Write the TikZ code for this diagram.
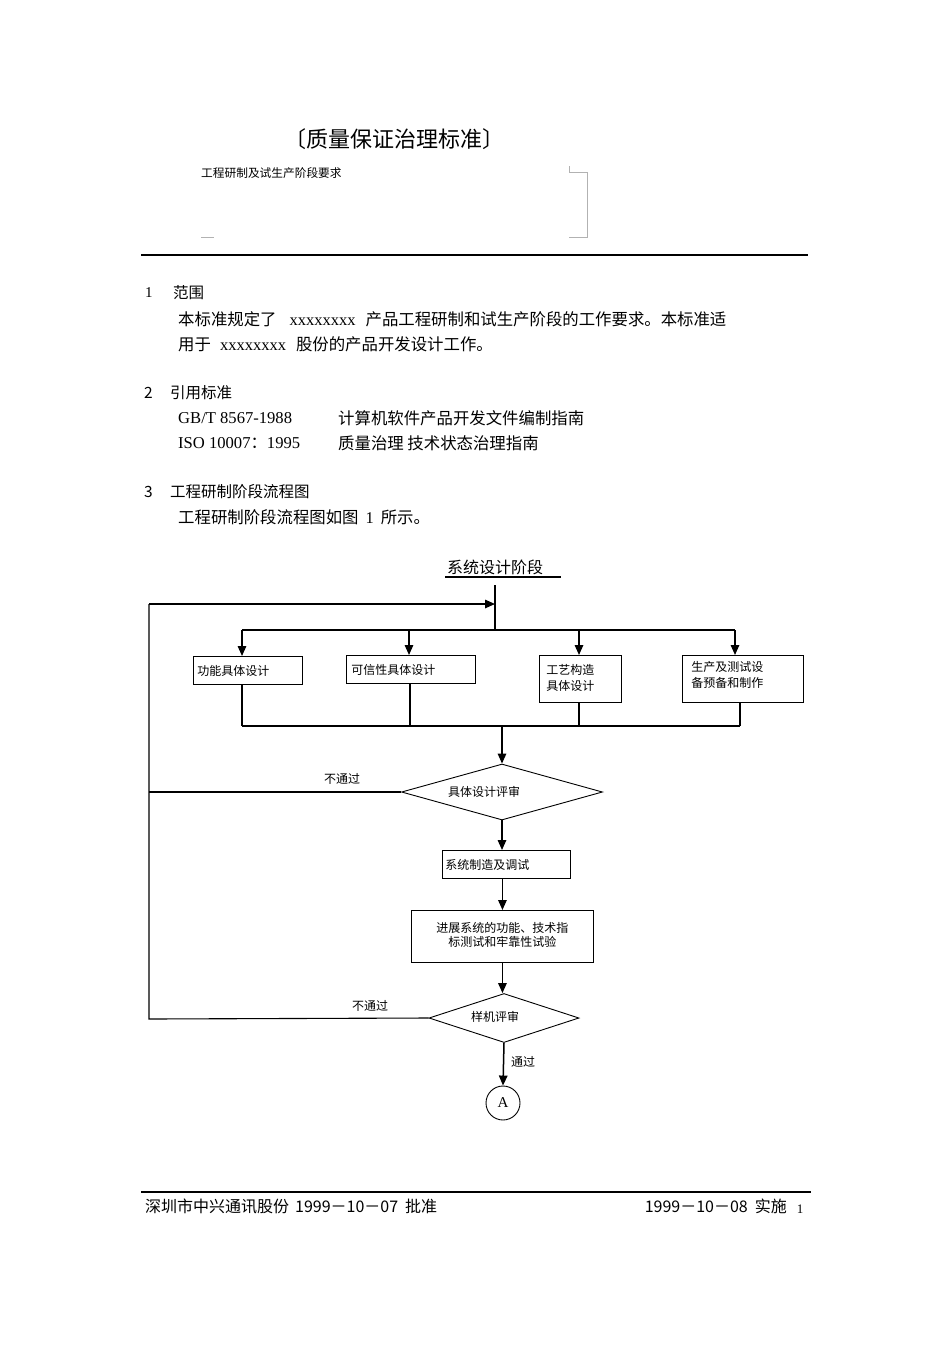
\documentclass[tikz,border=0pt]{standalone}
\usepackage{fontspec}
\setmainfont{Liberation Serif}
\newfontfamily\cjk{Noto Sans CJK SC}
\usetikzlibrary{shapes.geometric,arrows.meta}
\newcommand\xs{{\rmfamily\fontsize{16.5}{19}\selectfont xxxxxxxx}}
\begin{document}
\begin{tikzpicture}[x=1pt,y=-1pt,
  txt/.style={inner sep=0pt, anchor=west, font=\cjk\fontsize{16.4}{19}\selectfont},
  head/.style={inner sep=0pt, anchor=west, font=\cjk\fontsize{15.5}{19}\selectfont},
  small/.style={inner sep=0pt, anchor=west, font=\cjk\fontsize{12}{15}\selectfont},
  box/.style={draw, line width=0.9pt, inner ysep=0pt, anchor=north west, align=left,
    font=\cjk\fontsize{12}{16}\selectfont},
  dia/.style={draw, line width=0.9pt, shape=diamond, inner sep=0pt},
  ln/.style={line width=1.1pt},
  thk/.style={line width=1.6pt},
  arr/.style={line width=1.5pt, -{Triangle[length=10pt,width=8.5pt]}}
]
\useasboundingbox[fill=white] (0,0) rectangle (950,1345);

% ---------- header ----------
\node[inner sep=0pt, font=\cjk\fontsize{22}{24}\selectfont] (ttl) at (394,139) {〔质量保证治理标准〕};
\node[small, font=\cjk\fontsize{11.7}{14}\selectfont] (sub) at (201,173) {工程研制及试生产阶段要求};
\draw[black!30, line width=0.7pt] (569,166) -- (569,172) -- (587,172) -- (587,237) -- (569,237);
\draw[black!30, line width=0.7pt] (201,237) -- (214,237);
\draw[line width=2.6pt] (141,255) -- (808,255);

% ---------- sections ----------
\node[inner sep=0pt, anchor=west, font=\fontsize{15}{18}\selectfont] (n1) at (145,293) {1};
\node[head] (h1) at (173,293) {范围};
\node[txt] (p1) at (178,319) {本标准规定了\hspace{13pt}\xs\hspace{10pt}产品工程研制和试生产阶段的工作要求。本标准适};
\node[txt] (p2) at (178,344) {用于\hspace{9pt}\xs\hspace{10pt}股份的产品开发设计工作。};

\node[head] (n2) at (144,393) {2};
\node[head] (h2) at (170,393) {引用标准};
\node[txt, font=\fontsize{16.6}{19}\selectfont] (r1a) at (178,418) {GB/T 8567-1988};
\node[txt] (r1b) at (338,418) {计算机软件产品开发文件编制指南};
\node[txt] (r2a) at (178,443) {{\rmfamily\fontsize{16.6}{19}\selectfont ISO 10007}：{\rmfamily\fontsize{16.6}{19}\selectfont 1995}};
\node[txt] (r2b) at (338,443) {质量治理 技术状态治理指南};

\node[head] (n3) at (144,492) {3};
\node[head] (h3) at (170,492) {工程研制阶段流程图};
\node[txt] (p3) at (178,517) {工程研制阶段流程图如图\hspace{7pt}{\rmfamily 1}\hspace{7pt}所示。};

% ---------- flowchart ----------
\node[txt, font=\cjk\fontsize{16}{19}\selectfont] (stage) at (447,567) {系统设计阶段};
\draw[line width=1.3pt] (445,577) -- (561,577);

\coordinate (top) at (495,585);
\coordinate (join) at (495,604);
\coordinate (split) at (495,630);
\coordinate (loopTop) at (149,604);
\coordinate (s1) at (242,630);
\coordinate (s2) at (409,630);
\coordinate (s3) at (579,630);
\coordinate (s4) at (735,630);

\node[box, inner xsep=4pt, text width=101pt, minimum height=28pt] (b1) at (193,656) {功能具体设计};
\node[box, inner xsep=5pt, text width=119pt, minimum height=28pt] (b2) at (346,655) {可信性具体设计};
\node[box, inner xsep=7pt, text width=68pt, minimum height=47pt] (b3) at (539,655) {工艺构造\\具体设计\\[-12pt]\mbox{}};
\node[box, inner xsep=9pt, text width=103pt, minimum height=47pt] (b4) at (682,655) {生产及测试设\\备预备和制作\\[-7pt]\mbox{}};

\coordinate (m1) at (242,726);
\coordinate (m2) at (410,726);
\coordinate (m3) at (579,726);
\coordinate (m4) at (740,726);
\coordinate (m) at (502,726);

\node[dia, minimum width=201pt, minimum height=56pt] (d1) at (502,792) {};
\node[small] (d1t) at (448,792) {具体设计评审};
\node[box, inner xsep=3pt, text width=122pt, minimum height=28pt] (p4) at (442,850) {系统制造及调试};
\node[box, inner xsep=4pt, text width=174pt, minimum height=52pt, align=center,
  font=\cjk\fontsize{12}{14}\selectfont] (p5) at (411,910) {进展系统的功能、技术指\\标测试和牢靠性试验\\[-10pt]\mbox{}};
\node[dia, minimum width=150pt, minimum height=49pt] (d2) at (504,1018) {};
\node[small] (d2t) at (471,1017) {样机评审};
\node[draw, circle, line width=0.9pt, minimum size=34pt, inner sep=0pt,
  font=\fontsize{15}{18}\selectfont] (A) at (503,1103) {A};

\node[small] (no1) at (342,779) [anchor=center] {不通过};
\node[small] (no2) at (370,1006) [anchor=center] {不通过};
\node[small] (yes) at (523,1062) [anchor=center] {通过};

\coordinate (lb1) at (149,792);
\coordinate (lb2) at (149,1019);

% connectors
\draw[ln] (top) -- (split);
\draw[ln] (s1) -- (s4);
\draw[arr] (s1) -- (s1 |- b1.north);
\draw[arr] (s2) -- (s2 |- b2.north);
\draw[arr] (s3) -- (s3 |- b3.north);
\draw[arr] (s4) -- (s4 |- b4.north);
\draw[thk] (m1 |- b1.south) -- (m1);
\draw[ln] (m2 |- b2.south) -- (m2);
\draw[ln] (m3 |- b3.south) -- (m3);
\draw[ln] (m4 |- b4.south) -- (m4);
\draw[ln] (m1) -- (m4);
\draw[arr] (m) -- (d1.north);
\draw[arr] (d1.south) -- (d1.south |- p4.north);
\draw[arr] (p4.south -| p5.north) -- (p5.north);
\draw[arr] (p5.south) -- (p5.south |- d2.north);
\draw[arr] (d2.south) -- (A.north);
\draw[ln] (d1.west) -- (lb1);
\draw[ln] (d2.west) -- (lb2) -- (loopTop);
\draw[arr] (loopTop) -- (join);

% ---------- footer ----------
\draw[line width=2.6pt] (141,1192) -- (811,1192);
\node[head, font=\cjk\fontsize{16}{19}\selectfont] (f1) at (145,1206) {深圳市中兴通讯股份\hspace{6pt}1999－10－07\hspace{7pt}批准};
\node[head, anchor=east, font=\cjk\fontsize{16}{19}\selectfont] (f2) at (787,1206) {1999－10－08\hspace{7pt}实施};
\node[inner sep=0pt, font=\fontsize{13}{15}\selectfont] (pg) at (800,1209) {1};
\end{tikzpicture}
\end{document}
